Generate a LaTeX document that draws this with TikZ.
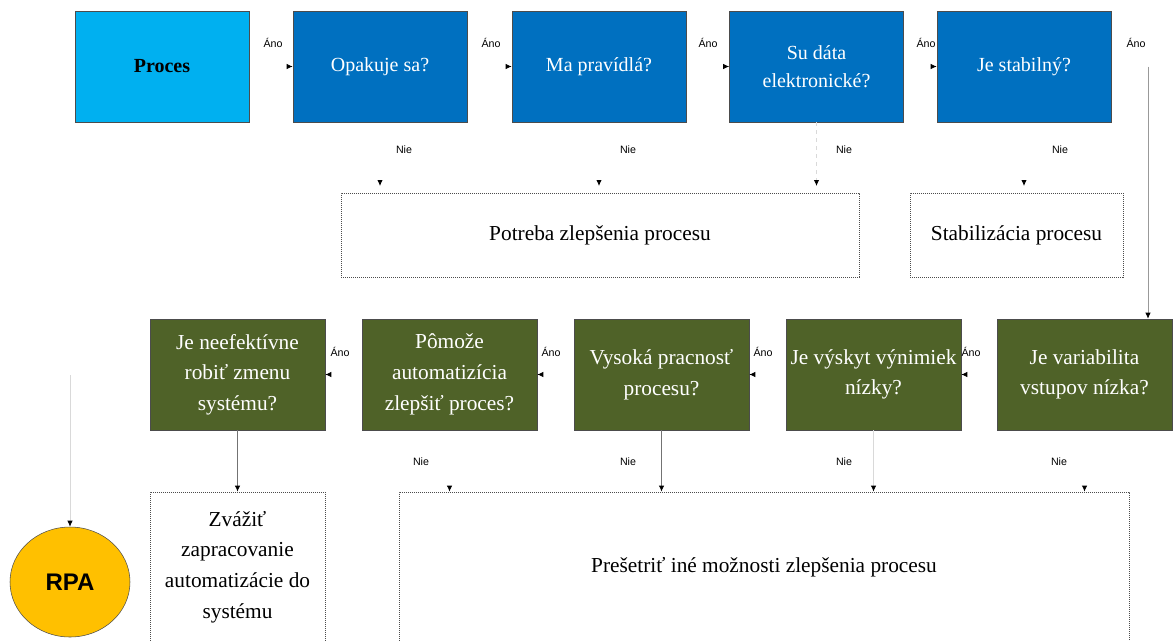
\documentclass[tikz,border=0pt]{standalone}
\usepackage{fontspec}
\setmainfont{Liberation Serif}
\newfontfamily\lblfont{Liberation Sans}
\usetikzlibrary{arrows.meta,shapes.geometric}

\begin{document}
\begin{tikzpicture}[x=0.75pt,y=-0.75pt,
  topq/.style={draw=black!70,fill=qblue,text=white,minimum width=130.5pt,minimum height=83.25pt,inner sep=2pt,align=center,font=\fontsize{15}{21}\selectfont},
  botq/.style={topq,fill=qgreen,minimum width=131.25pt,font=\fontsize{16}{23}\selectfont},
  note/.style={draw=black!70,dash pattern=on 0.8pt off 0.7pt,line width=0.5pt,align=center,font=\fontsize{16}{23}\selectfont},
  flow/.style={line width=0.6pt,-{Latex[length=4.5pt,width=4pt,color=black]}},
  nolink/.style={flow,draw=white,shorten <=1pt},
  faint/.style={flow,draw=black!15},
  shown/.style={flow,draw=black!55},
  lbl/.style={font=\lblfont\fontsize{8}{9}\selectfont}]
\definecolor{pcyan}{HTML}{00B0F0}
\definecolor{qblue}{HTML}{0070C0}
\definecolor{qgreen}{HTML}{4F6228}
\definecolor{rpagold}{HTML}{FFC000}
\useasboundingbox (0,0) rectangle (1173,640);
% horny rad
\node [topq,fill=pcyan,text=black,font=\fontsize{15}{21}\selectfont\bfseries] (proces) at (162,66.5) {Proces};
\node [topq] (opak) at (380,66.5) {Opakuje sa?};
\node [topq] (pravidla) at (599,66.5) {Ma pravídlá?};
\node [topq] (data) at (816.5,66.5) {Su dáta\\elektronické?};
\node [topq] (stabil) at (1024,66.5) {Je stabilný?};
\node [note,minimum width=388.5pt,minimum height=63pt] (potreba) at (600,235) {Potreba zlepšenia procesu};
\node [note,minimum width=159.75pt,minimum height=63pt] (stabiliz) at (1016.5,235) {Stabilizácia procesu};
% dolny rad
\node [botq] (neef) at (237.5,374.5) {Je neefektívne\\robiť zmenu\\systému?};
\node [botq] (pomoze) at (449.5,374.5) {Pômože\\automatizícia\\zlepšiť proces?};
\node [botq] (vysoka) at (661.5,374.5) {Vysoká pracnosť\\procesu?};
\node [botq] (vyskyt) at (873.5,374.5) {Je výskyt výnimiek\\nízky?};
\node [botq] (variab) at (1084.5,374.5) {Je variabilita\\vstupov nízka?};
\node [note,minimum width=131.25pt,minimum height=112.5pt] (zvazit) at (237.5,567) {Zvážiť\\zapracovanie\\automatizácie do\\systému};
\node [note,minimum width=547.5pt,minimum height=112.5pt] (presetrit) at (764,567) {Prešetriť iné možnosti zlepšenia procesu};
\node [ellipse,draw=black!70,fill=rpagold,minimum width=90pt,minimum height=82.5pt,font=\lblfont\fontsize{18}{20}\selectfont\bfseries] (rpa) at (70,582) {RPA};
\coordinate (turn) at (1148,66.5);
\coordinate (rpatop) at (70,375);
% Ano / Nie
\foreach \px/\py/\txt [count=\i] in {273/43/Áno,491/43/Áno,708/43/Áno,926/43/Áno,1136/43/Áno,
  340/352/Áno,551/352/Áno,763/352/Áno,971/352/Áno,
  404/150/Nie,628/150/Nie,844/150/Nie,1060/150/Nie,
  421/462/Nie,628/462/Nie,844/462/Nie,1059/462/Nie}
  {\node [lbl] (lab\i) at (\px,\py) {\txt};}
% spojenia
\draw [nolink] (proces) -- (opak);
\draw [nolink] (opak) -- (pravidla);
\draw [nolink] (pravidla) -- (data);
\draw [nolink] (data) -- (stabil);
\draw [white,line width=0.6pt,shorten <=1pt] (stabil.east) -- (turn);
\draw [shown,draw=black!40] (turn) -- (turn |- variab.north);
\draw [nolink,shorten >=5pt] (opak.south) -- (opak.south |- potreba.north);
\draw [nolink,shorten >=5pt] (pravidla.south) -- (pravidla.south |- potreba.north);
\draw [faint,dashed,shorten >=5pt] (data.south) -- (data.south |- potreba.north);
\draw [nolink,shorten >=5pt] (stabil.south) -- (stabil.south |- stabiliz.north);
\draw [nolink] (variab) -- (vyskyt);
\draw [nolink] (vyskyt) -- (vysoka);
\draw [nolink] (vysoka) -- (pomoze);
\draw [nolink] (pomoze) -- (neef);
\draw [shown] (neef.south) -- (neef.south |- zvazit.north);
\draw [nolink] (pomoze.south) -- (pomoze.south |- presetrit.north);
\draw [shown] (vysoka.south) -- (vysoka.south |- presetrit.north);
\draw [faint] (vyskyt.south) -- (vyskyt.south |- presetrit.north);
\draw [nolink] (variab.south) -- (variab.south |- presetrit.north);
\draw [faint] (rpatop) -- (rpa.north);
\end{tikzpicture}
\end{document}
